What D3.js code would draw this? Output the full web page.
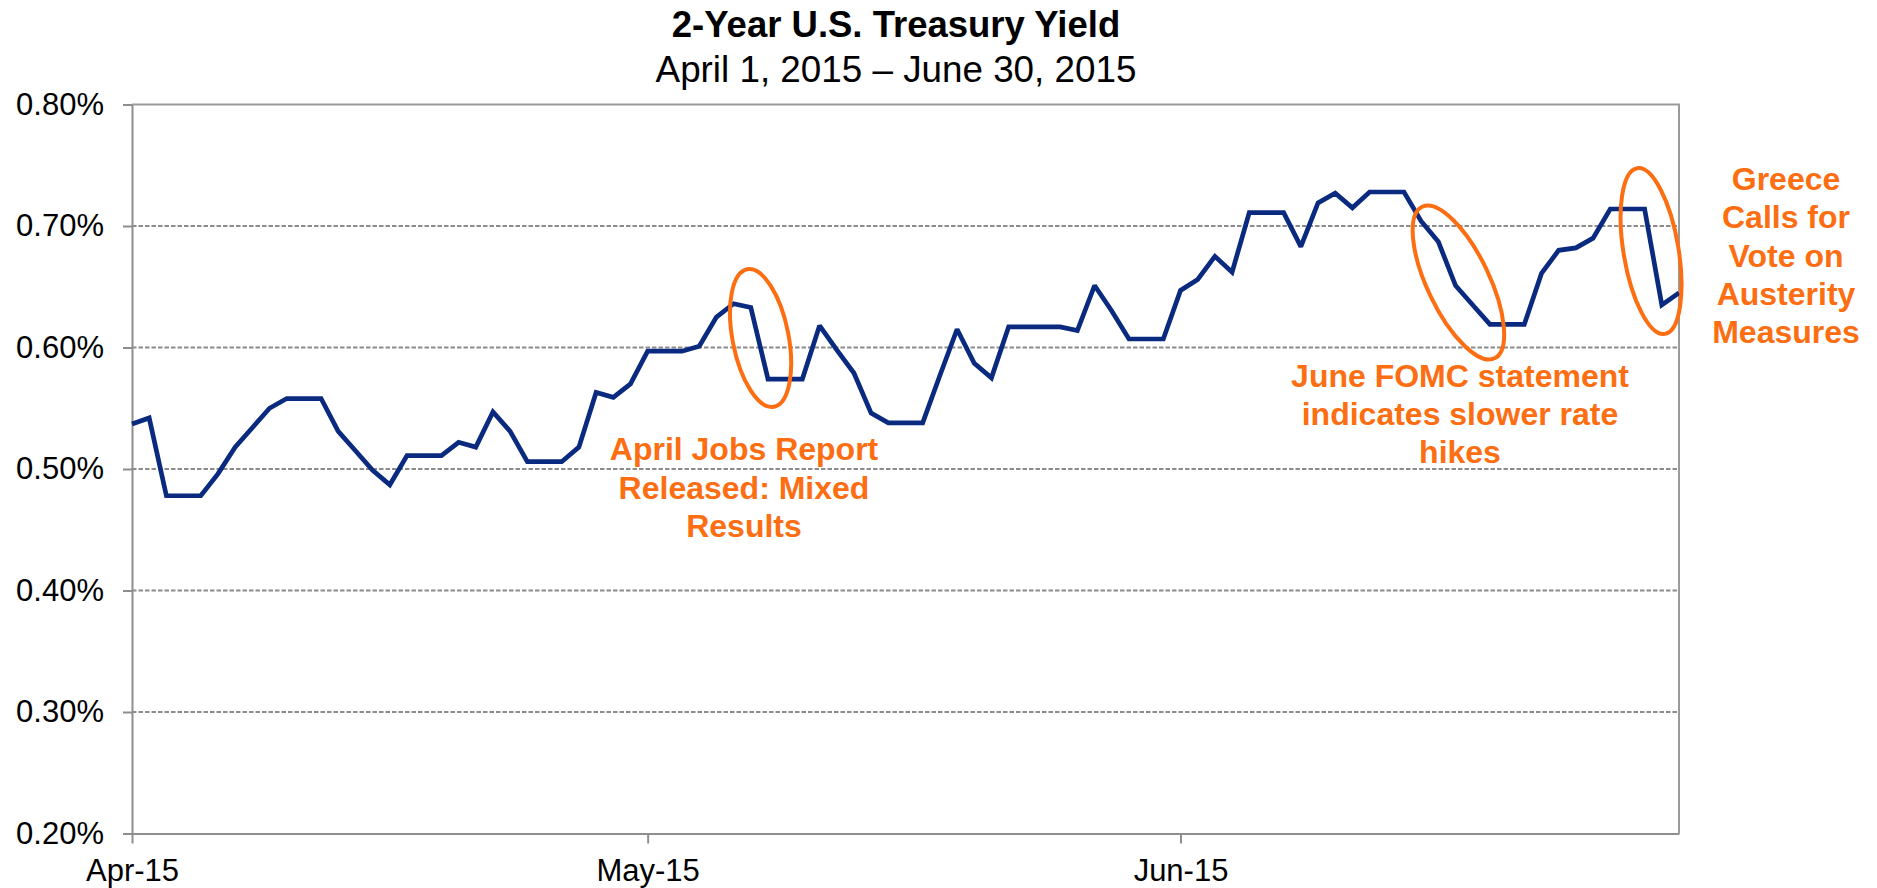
<!DOCTYPE html>
<html><head><meta charset="utf-8">
<script src="https://cdn.jsdelivr.net/npm/d3@7"></script>
<style>
html,body{margin:0;padding:0;background:#fff;overflow:hidden;}
svg{display:block;font-family:"Liberation Sans",Arial,Helvetica,sans-serif;}
</style></head><body>
<svg id="chart" width="1877" height="888"></svg>
<script>
// ---------------- DATA ----------------
const titleText = "2-Year U.S. Treasury Yield";
const subtitleText = "April 1, 2015 \u2013 June 30, 2015";

// daily 2-year yields (%), weekends/holidays carry the previous close
const yieldApr = [0.537,0.542,0.478,0.478,0.478,0.496,0.518,0.534,0.550,0.558,
                  0.558,0.558,0.531,0.515,0.499,0.487,0.511,0.511,0.511,0.522,
                  0.518,0.547,0.531,0.506,0.506,0.506,0.518,0.563,0.559,0.570];
const yieldMay = [0.597,0.597,0.597,0.601,0.625,0.636,0.633,0.574,0.574,0.574,
                  0.618,0.598,0.579,0.546,0.538,0.538,0.538,0.577,0.615,0.587,
                  0.575,0.617,0.617,0.617,0.617,0.614,0.651,0.630,0.607,0.607,
                  0.607];
const yieldJun = [0.647,0.656,0.675,0.662,0.711,0.711,0.711,0.683,0.719,0.727,
                  0.715,0.728,0.728,0.728,0.704,0.687,0.651,0.635,0.619,0.619,
                  0.619,0.661,0.680,0.682,0.690,0.714,0.714,0.714,0.635,0.645];
const months = [{year:2015, month:3, values:yieldApr},
                {year:2015, month:4, values:yieldMay},
                {year:2015, month:5, values:yieldJun}];

const xTickDates = ["2015-04-01","2015-05-01","2015-06-01"];
const xTickLabels = ["Apr-15","May-15","Jun-15"];
const yTicks = [0.20,0.30,0.40,0.50,0.60,0.70,0.80];
const yDomain = [0.20,0.80];

const annoTexts = [
  ["April Jobs Report","Released: Mixed","Results"],
  ["June FOMC statement","indicates slower rate","hikes"],
  ["Greece","Calls for","Vote on","Austerity","Measures"]
];
// ellipse centres in data units (date, yield)
const ellipseCenters = [["2015-05-07T13:40",0.6078],["2015-06-17T04:00",0.6535],["2015-06-28T09:00",0.6794]];

// ---------------- LAYOUT ----------------
const L = {left:132, right:1679, top:104.5, bottom:833.5};
const annoLayout = [
  {x:744, y:460, lh:38.5},
  {x:1460, y:387, lh:38},
  {x:1786, y:190, lh:38.3}
];
const ellipseShape = [{rx:28, ry:70, rot:-11},{rx:31, ry:84, rot:-25.5},{rx:27.5, ry:84, rot:-9.5}];
const navy = "#0a2a7f", orange = "#fd6e12", gridGray = "#8c8c8c", axisGray = "#8e8e8e";

// ---------------- BUILD ----------------
const data = [];
months.forEach(m => m.values.forEach((v,i) => data.push({date:new Date(m.year, m.month, i+1), value:v})));

const x = d3.scaleTime().domain([new Date(2015,3,1), new Date(2015,5,30)]).range([L.left, L.right]);
const y = d3.scaleLinear().domain(yDomain).range([L.bottom, L.top]);

const svg = d3.select("#chart");

// title
svg.append("text").attr("x",896).attr("y",37).attr("text-anchor","middle")
  .attr("font-size",36.5).attr("font-weight","bold").attr("fill","#000").text(titleText);
svg.append("text").attr("x",896).attr("y",82).attr("text-anchor","middle")
  .attr("font-size",36.8).attr("fill","#000").text(subtitleText);

// gridlines
svg.append("g").selectAll("line").data(yTicks.filter(t => t>0.2001 && t<0.7999)).join("line")
  .attr("x1",L.left).attr("x2",L.right).attr("y1",d=>y(d)).attr("y2",d=>y(d))
  .attr("stroke",gridGray).attr("stroke-width",1.8).attr("stroke-dasharray","4.5,2");

// plot border (top & right)
svg.append("path").attr("d",`M${L.left},${L.top}H${L.right}V${L.bottom}`)
  .attr("fill","none").attr("stroke","#9a9a9a").attr("stroke-width",2);

// y axis
const yAxis = d3.axisLeft(y).tickValues(yTicks).tickSize(9).tickSizeOuter(0).tickPadding(19)
  .tickFormat(d => d3.format(".2f")(d) + "%");
const gy = svg.append("g").attr("transform",`translate(${L.left},0)`).call(yAxis);
gy.select(".domain").attr("stroke",axisGray).attr("stroke-width",2);
gy.selectAll(".tick line").attr("stroke",axisGray).attr("stroke-width",2);
gy.selectAll(".tick text").attr("font-size",31).attr("fill","#000")
  .attr("font-family",'"Liberation Sans",Arial,sans-serif');

// x axis
const xAxis = d3.axisBottom(x).tickValues(xTickDates.map(s => new Date(s+"T00:00")))
  .tickSize(10).tickSizeOuter(0).tickPadding(15).tickFormat((d,i) => xTickLabels[i]);
const gx = svg.append("g").attr("transform",`translate(0,${L.bottom})`).call(xAxis);
gx.select(".domain").attr("stroke",axisGray).attr("stroke-width",2);
gx.selectAll(".tick line").attr("stroke",axisGray).attr("stroke-width",2);
gx.selectAll(".tick text").attr("font-size",31).attr("fill","#000")
  .attr("font-family",'"Liberation Sans",Arial,sans-serif');

// line
const line = d3.line().x(d => x(d.date)).y(d => y(d.value));
svg.append("path").datum(data).attr("d",line).attr("fill","none")
  .attr("stroke",navy).attr("stroke-width",4.7).attr("stroke-linejoin","miter").attr("stroke-miterlimit",2);

// ellipses
ellipseCenters.forEach((c,i) => {
  const cx = x(new Date(c[0])), cy = y(c[1]);
  const s = ellipseShape[i];
  svg.append("ellipse").attr("cx",0).attr("cy",0).attr("rx",s.rx).attr("ry",s.ry)
    .attr("transform",`translate(${cx},${cy}) rotate(${s.rot})`)
    .attr("fill","none").attr("stroke",orange).attr("stroke-width",4);
});

// annotation texts
annoTexts.forEach((lines,i) => {
  const a = annoLayout[i];
  const t = svg.append("text").attr("text-anchor","middle").attr("font-size",32)
    .attr("font-weight","bold").attr("fill",orange);
  lines.forEach((s,j) => t.append("tspan").attr("x",a.x).attr("y",a.y + j*a.lh).text(s));
});
</script>
</body></html>
